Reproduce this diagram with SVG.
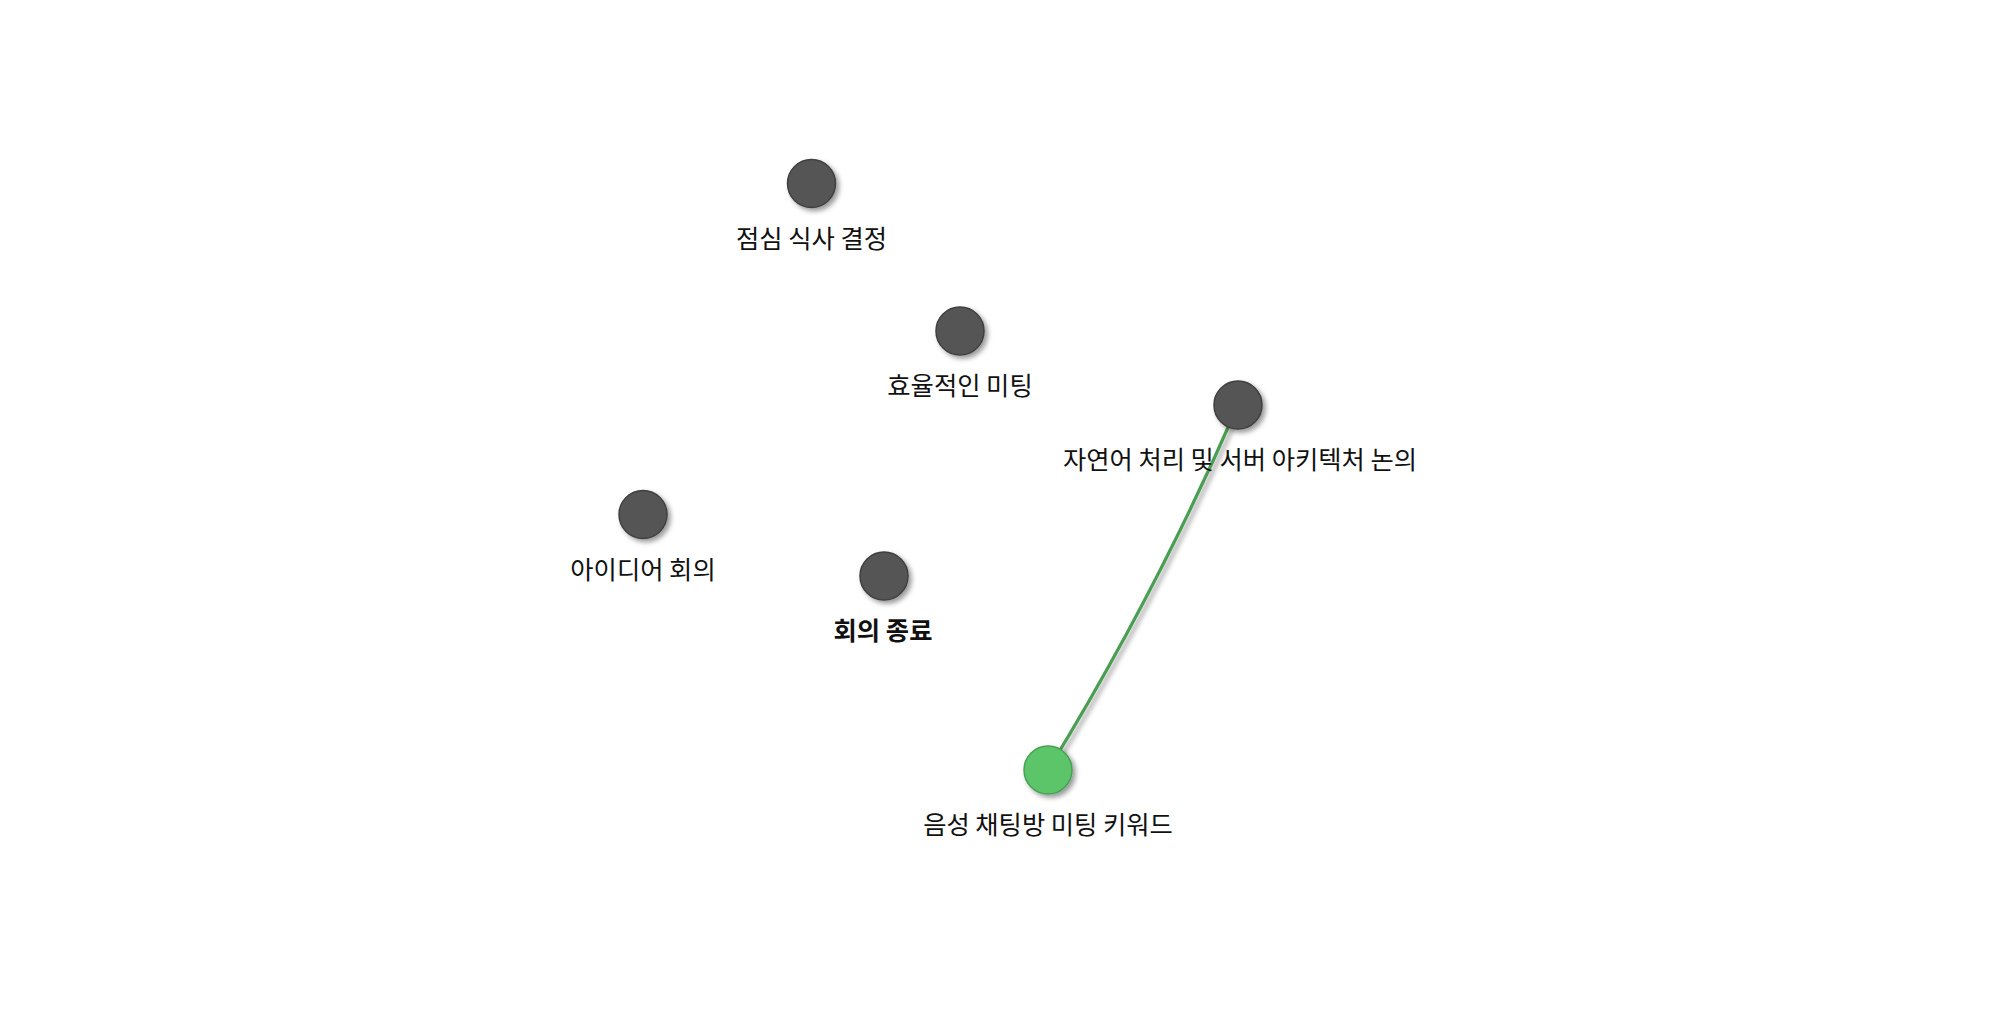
<svg xmlns="http://www.w3.org/2000/svg" width="2012" height="1020" viewBox="0 0 2012 1020">
<style>
.node circle{fill:#555555;stroke:#404040;stroke-width:1.5;filter:url(#sh)}
.node.active circle{fill:#5cc469;stroke:#48a055}
.node text{font-family:"Noto Sans CJK KR","Noto Sans",sans-serif;font-size:25.3px;fill:#111;text-anchor:middle}
.node text.bold{font-weight:bold}
.edge{fill:none;stroke:#4a9e52;stroke-width:3.2;filter:url(#sh)}
</style>
<defs>
<filter id="sh" x="-50%" y="-50%" width="200%" height="200%">
<feDropShadow dx="3" dy="3" stdDeviation="2.5" flood-color="#000" flood-opacity="0.4"/>
</filter>
</defs>
<rect width="2012" height="1020" fill="#ffffff"/>
<g id="connectors">
<path class="edge" d="M1238,405 Q1156,594 1048,770"/>
</g>
<g id="node-lunch" class="node">
<circle cx="811.5" cy="183.5" r="24"/>
<text x="811.5" y="247.5">점심 식사 결정</text>
</g>
<g id="node-efficient" class="node">
<circle cx="960" cy="331" r="24"/>
<text x="960" y="394.5">효율적인 미팅</text>
</g>
<g id="node-nlp" class="node">
<circle cx="1238" cy="405" r="24"/>
<text x="1240" y="468.5">자연어 처리 및 서버 아키텍처 논의</text>
</g>
<g id="node-idea" class="node">
<circle cx="643" cy="514.5" r="24"/>
<text x="643" y="578.5">아이디어 회의</text>
</g>
<g id="node-end" class="node">
<circle cx="884" cy="576" r="24"/>
<text class="bold" x="883" y="639.5">회의 종료</text>
</g>
<g id="node-voice" class="node active">
<circle cx="1048" cy="770" r="24"/>
<text x="1048" y="833.5">음성 채팅방 미팅 키워드</text>
</g>
</svg>
